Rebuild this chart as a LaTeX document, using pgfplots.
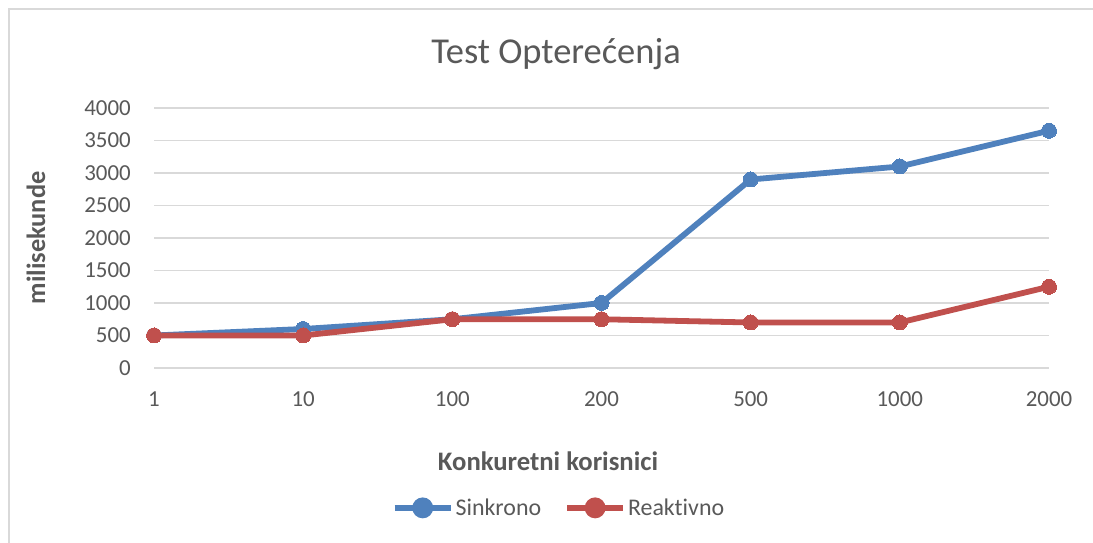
\documentclass[border=0pt]{standalone}
\usepackage{pgfplots}
\pgfplotsset{compat=1.18}
\usepackage{fontspec}
\setmainfont[Ligatures={NoCommon}]{Carlito}
\definecolor{sblue}{HTML}{4F81BD}
\definecolor{sred}{HTML}{C0504D}
\definecolor{gridc}{HTML}{D9D9D9}
\definecolor{txt}{HTML}{595959}
\begin{document}
\begin{tikzpicture}[x=1bp,y=1bp]
\useasboundingbox (0,0) rectangle (1093,543);
\fill[white] (0,0) rectangle (1093,543);
\draw[gridc, line width=1.5bp] (9,0) -- (9,534) -- (1093,534);
\begin{axis}[
  at={(154bp,175bp)}, anchor=south west,
  scale only axis, width=895bp, height=260bp,
  xmin=0, xmax=6, ymin=0, ymax=4000,
  xtick={0,1,2,3,4,5,6},
  xticklabels={1,10,100,200,500,1000,2000},
  ytick={0,500,...,4000},
  axis line style={draw=none},
  major tick length=0pt,
  ymajorgrids, grid style={gridc, line width=1.5bp},
  clip=false,
  /pgf/number format/assume math mode=true,
  /pgf/number format/1000 sep={},
  tick label style={font=\fontsize{23}{23}\selectfont, text=txt},
  yticklabel style={anchor=east, inner sep=0pt, xshift=-23bp},
  xticklabel style={anchor=base, inner sep=0pt, yshift=-39bp},
  legend columns=2,
  legend style={at={(0.4525,-0.538)}, anchor=center, draw=none, fill=none,
    font=\fontsize{24}{24}\selectfont, text=txt,
    /tikz/every even column/.append style={column sep=21bp},
    inner sep=0pt},
  legend image code/.code={\draw[#1,mark=none] (0bp,0bp) -- (56bp,0bp); \fill[#1] (28bp,0bp) circle (7.5bp);},
  every axis plot/.append style={line width=5.8bp, mark=*, mark size=7.5bp},
]
\addplot[color=sblue, mark options={fill=sblue, draw=sblue, line width=0pt}] coordinates {(0,500) (1,600) (2,750) (3,1000) (4,2900) (5,3100) (6,3650)};
\addlegendentry{Sinkrono}
\addplot[color=sred, mark options={fill=sred, draw=sred, line width=0pt}] coordinates {(0,500) (1,500) (2,750) (3,750) (4,700) (5,700) (6,1250)};
\addlegendentry{Reaktivno}
\end{axis}
\node[text=txt, font=\fontsize{36.6}{36.6}\selectfont] at (556,489) {Test Opterećenja};
\node[text=txt, font=\bfseries\fontsize{26.5}{26.5}\selectfont, rotate=90] at (36,305) {milisekunde};
\node[text=txt, font=\bfseries\fontsize{26.8}{26.8}\selectfont] at (548,82) {Konkuretni korisnici};
\end{tikzpicture}
\end{document}
